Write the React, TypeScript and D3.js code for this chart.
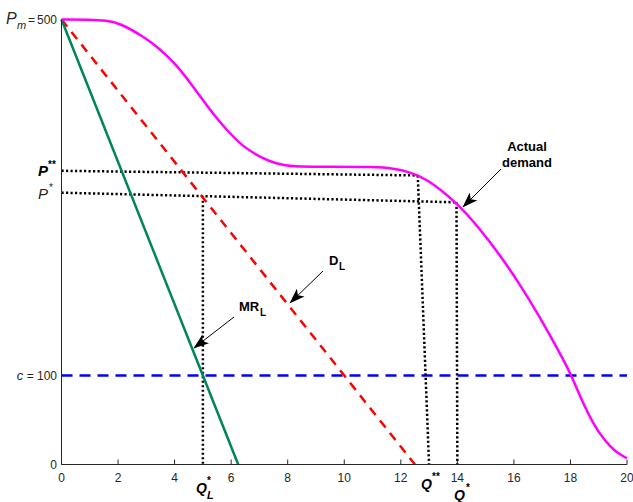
import React from "react";
import * as d3 from "d3";

const W = 633;
const H = 502;

// Marginal revenue of leader and leader's demand (linear)
const mrLine: [number, number][] = [[0, 500], [6.25, 0]];
const dlLine: [number, number][] = [[0, 500], [12.5, 0]];
const costLine: [number, number][] = [[0, 100], [20, 100]];

// Actual demand curve samples (x, price)
const actualX = [0, 1.0, 1.6, 2.07, 2.89, 3.48, 4.07, 4.66, 5.25, 5.84, 6.42, 7.0, 7.6, 8.19, 9.37, 11.14, 11.72, 12.3, 12.9, 13.97, 14.79, 15.49, 16.2, 16.91, 17.61, 18.03, 18.4, 18.8, 19.2, 19.6, 20];
const actualY = [500, 500, 499, 495.7, 481, 467, 449, 424.6, 398.3, 375.8, 357, 345.8, 337.6, 334.5, 334.5, 334.5, 332.6, 328.9, 321.5, 294.6, 265, 236, 203, 166, 126, 100.6, 72, 46, 27, 14, 7];

// Dotted guide segments
const dottedSegments: [number, number][][] = [
  [[0, 330], [12.6, 324.8]],
  [[12.6, 324.8], [13, 0]],
  [[0, 305.4], [13.97, 294.6]],
  [[5, 301.5], [5, 0]],
  [[13.97, 294.6], [14, 0]],
];

const xTicks = [0, 2, 4, 6, 8, 10, 12, 14, 16, 18, 20];

const FONT = "'Liberation Sans', Arial, Helvetica, sans-serif";

export default function App() {
  const x = d3.scaleLinear().domain([0, 20]).range([61.5, 627]);
  const y = d3.scaleLinear().domain([0, 500]).range([464.5, 19.5]);
  const line = d3.line<[number, number]>().x((d) => x(d[0])).y((d) => y(d[1]));
  const smooth = d3
    .line<[number, number]>()
    .x((d) => x(d[0]))
    .y((d) => y(d[1]))
    .curve(d3.curveBasis);
  const actual: [number, number][] = actualX.map((v, i) => [v, actualY[i]]);

  const arrow = (x1: number, y1: number, x2: number, y2: number) => (
    <line x1={x1} y1={y1} x2={x2} y2={y2} stroke="#000" strokeWidth={1} markerEnd="url(#ah)" />
  );

  return (
    <svg width={W} height={H} style={{ position: "absolute", left: 0, top: 0, background: "#fff" }} fontFamily={FONT}>
      <defs>
        <marker id="ah" viewBox="0 0 20 14" refX="19" refY="7" markerWidth="16" markerHeight="11" markerUnits="userSpaceOnUse" orient="auto">
          <path d="M0,0 L20,7 L0,14 L5,7 Z" fill="#000" />
        </marker>
      </defs>

      {/* Cost line */}
      <path d={line(costLine) || ""} stroke="#0000ff" strokeWidth={2.5} strokeDasharray="11,7" fill="none" />

      {/* Dotted guides */}
      {dottedSegments.map((s, i) => (
        <path key={i} d={line(s) || ""} stroke="#000" strokeWidth={2.5} strokeDasharray="2.2,2.3" fill="none" />
      ))}

      {/* D_L */}
      <path d={line(dlLine) || ""} stroke="#ff0000" strokeWidth={2.5} strokeDasharray="9,7" fill="none" />
      {/* MR_L */}
      <path d={line(mrLine) || ""} stroke="#00845a" strokeWidth={2.5} fill="none" />
      {/* Actual demand */}
      <path d={smooth(actual) || ""} stroke="#ff00ff" strokeWidth={2.5} fill="none" />

      {/* Axes */}
      <line x1={x(0)} y1={y(0)} x2={x(0)} y2={y(500)} stroke="#262626" strokeWidth={1} />
      <line x1={x(0)} y1={y(0)} x2={x(20)} y2={y(0)} stroke="#262626" strokeWidth={1} />
      {xTicks.map((t) => (
        <g key={t}>
          <line x1={x(t)} y1={y(0)} x2={x(t)} y2={y(0) - 5} stroke="#262626" strokeWidth={1} />
          <text x={x(t)} y={482} fontSize={12} textAnchor="middle" fill="#262626">{t}</text>
        </g>
      ))}

      {/* Y labels */}
      <text x={57} y={469} fontSize={12} textAnchor="end" fill="#262626">0</text>
      <text x={57} y={380} fontSize={12} textAnchor="end" fill="#262626">
        <tspan fontStyle="italic" fontSize={13}>c</tspan> = 100
      </text>
      <text x={6} y={24} fontSize={16} fontStyle="italic" fill="#262626">P</text>
      <text x={17} y={29} fontSize={11} fontStyle="italic" fill="#262626">m</text>
      <text x={28} y={24} fontSize={12} fill="#262626">=</text>
      <text x={57} y={24} fontSize={12} textAnchor="end" fill="#262626">500</text>
      <text x={38} y={176} fontSize={15} fontWeight="bold" fontStyle="italic" fill="#000">P</text>
      <text x={48} y={168} fontSize={10} fontWeight="bold" fill="#000">**</text>
      <text x={38} y={199} fontSize={15} fontStyle="italic" fill="#262626">P</text>
      <text x={49} y={191} fontSize={10} fill="#262626">*</text>

      {/* X special labels */}
      <text x={196} y={493} fontSize={14} fontWeight="bold" fontStyle="italic" fill="#000">Q</text>
      <text x={207} y={484} fontSize={10} fontWeight="bold" fill="#000">*</text>
      <text x={207} y={499} fontSize={11} fontWeight="bold" fontStyle="italic" fill="#000">L</text>

      <text x={421} y={489} fontSize={14} fontWeight="bold" fontStyle="italic" fill="#000">Q</text>
      <text x={432} y={480} fontSize={10} fontWeight="bold" fill="#000">**</text>

      <text x={454} y={500} fontSize={14} fontWeight="bold" fontStyle="italic" fill="#000">Q</text>
      <text x={466} y={491} fontSize={10} fontWeight="bold" fill="#000">*</text>

      {/* Annotations */}
      <text x={527} y={151} fontSize={13} fontWeight="bold" textAnchor="middle" fill="#000">Actual</text>
      <text x={527} y={167} fontSize={13} fontWeight="bold" textAnchor="middle" fill="#000">demand</text>
      {arrow(501, 169, 463, 207)}

      <text x={329} y={265} fontSize={13} fontWeight="bold" fill="#000">D</text>
      <text x={339} y={270} fontSize={10} fontWeight="bold" fill="#000">L</text>
      {arrow(323, 271, 290, 303)}

      <text x={239} y={311} fontSize={13} fontWeight="bold" fill="#000">MR</text>
      <text x={260} y={316} fontSize={10} fontWeight="bold" fill="#000">L</text>
      {arrow(234, 317, 194, 348)}
    </svg>
  );
}
